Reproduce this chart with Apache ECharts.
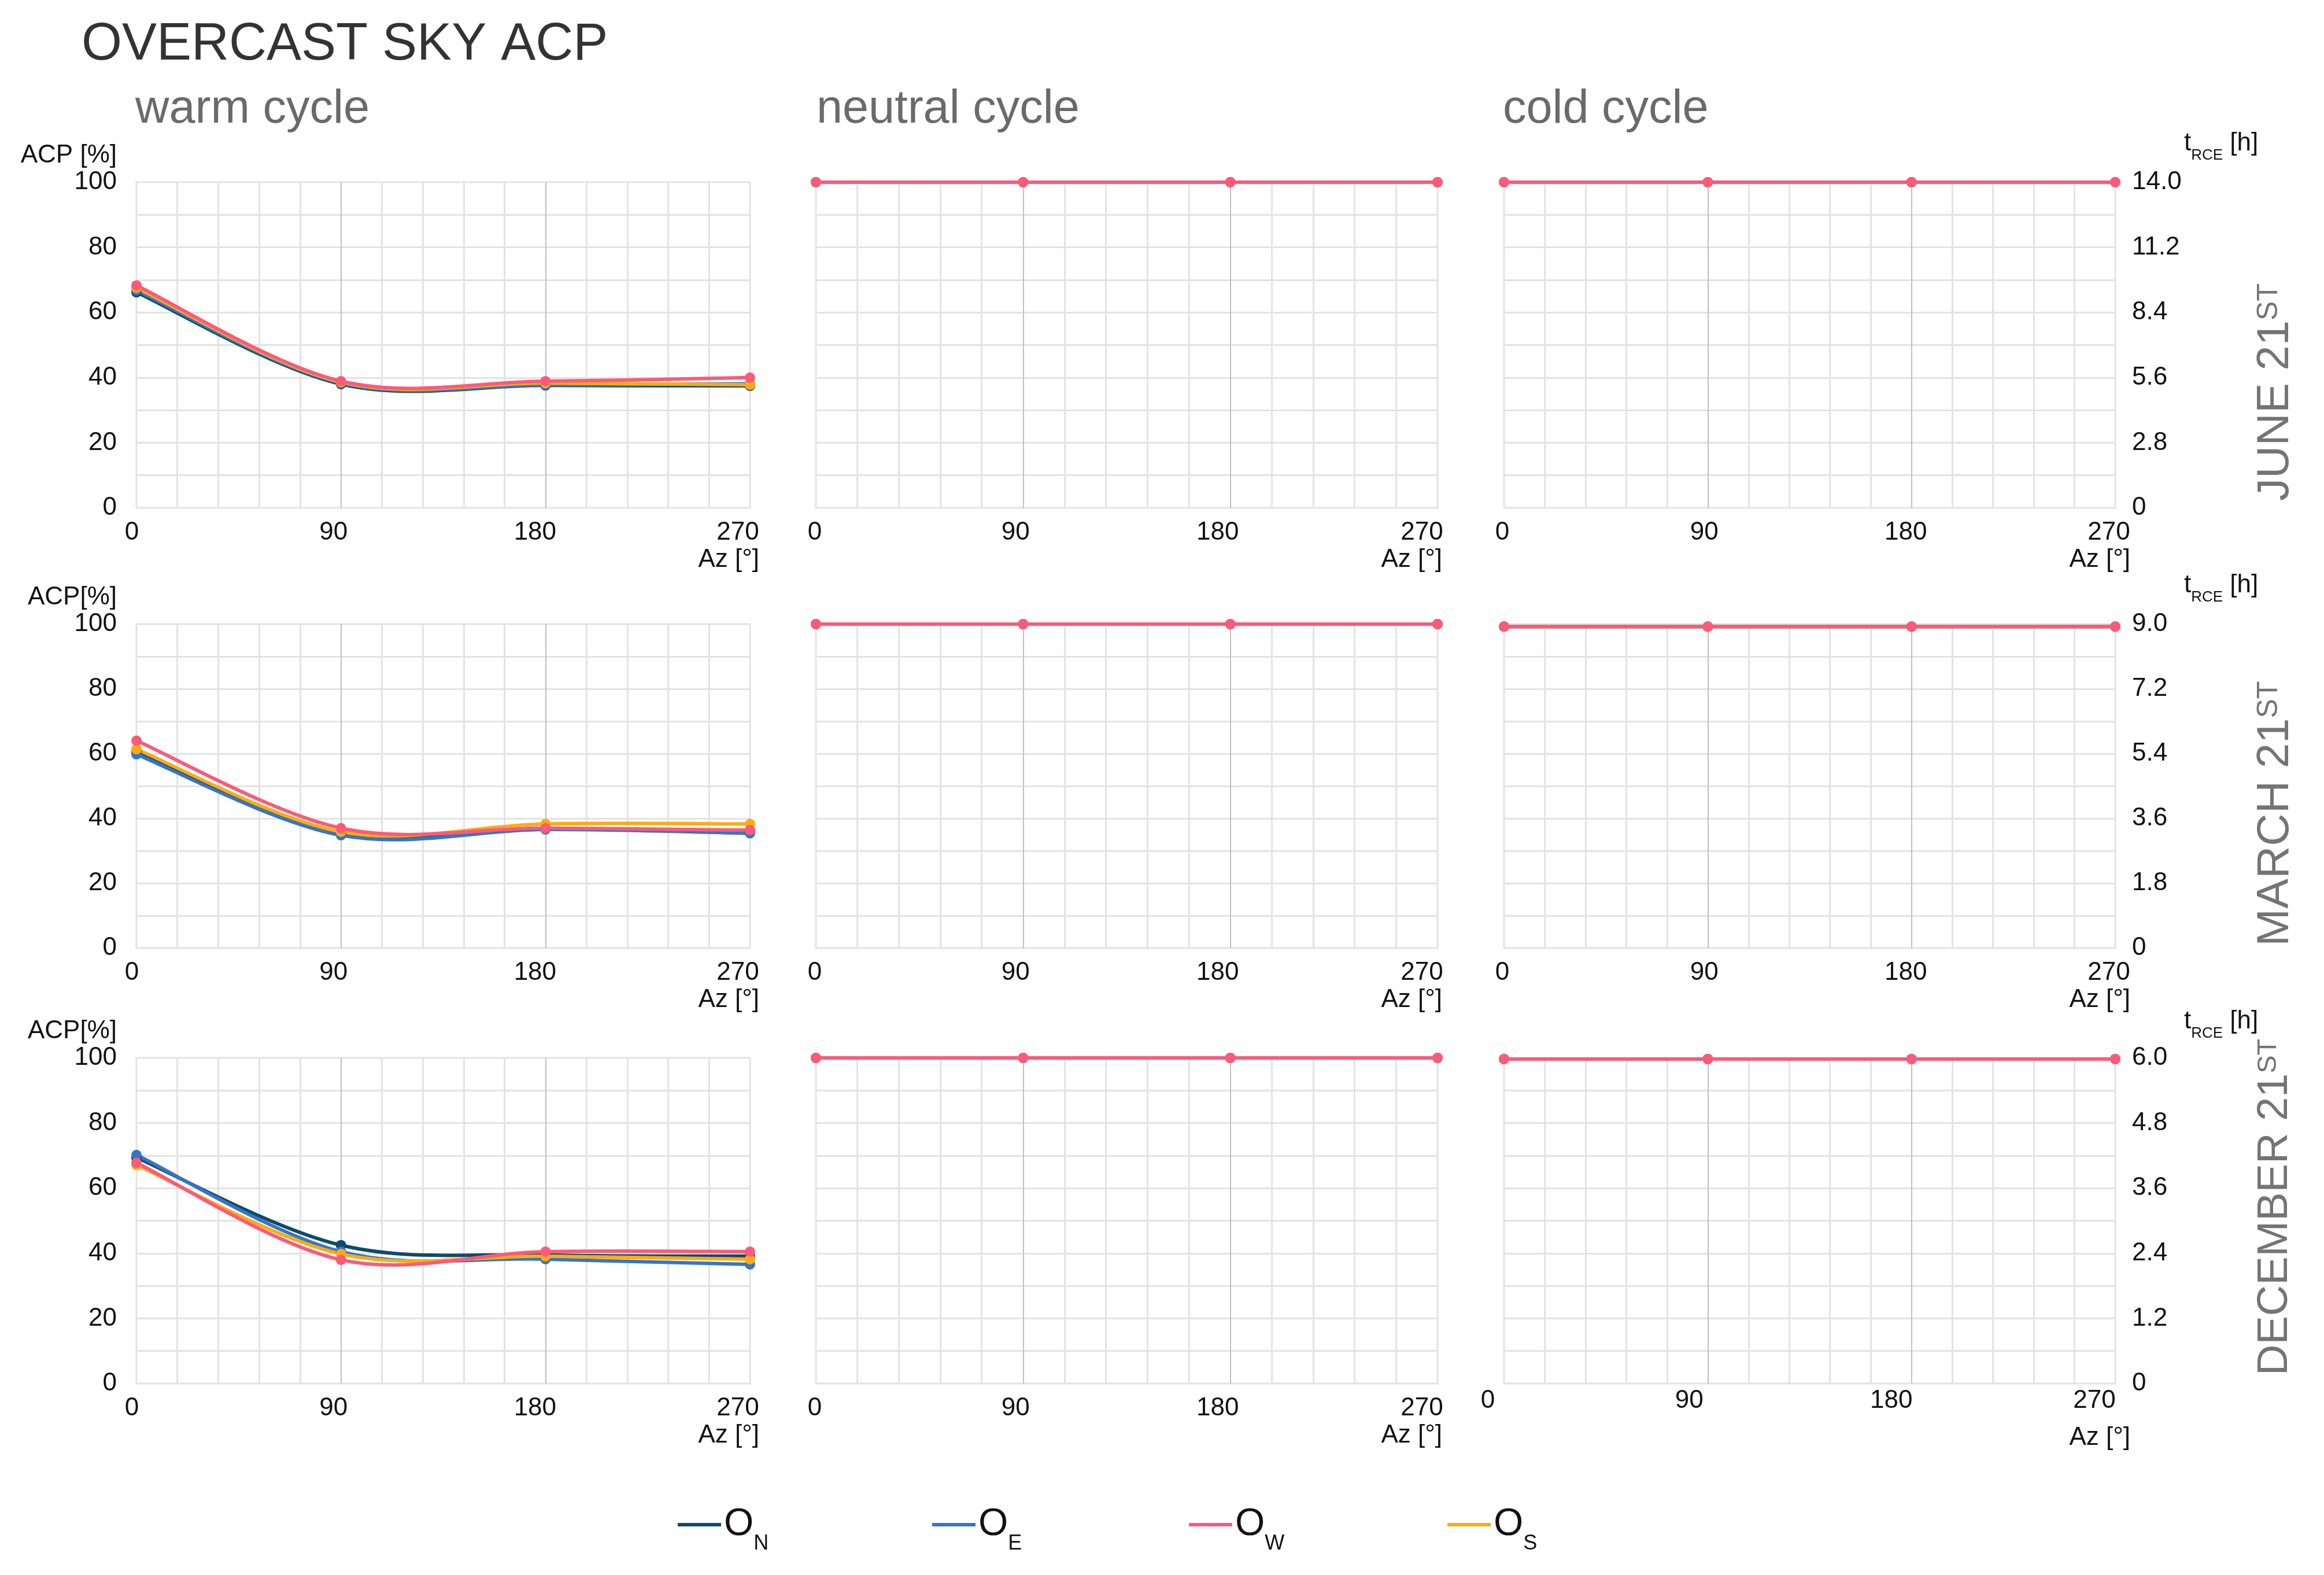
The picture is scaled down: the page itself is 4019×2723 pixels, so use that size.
<!DOCTYPE html>
<html><head><meta charset="utf-8">
<script src="https://cdn.jsdelivr.net/npm/echarts@6/dist/echarts.min.js"></script>
<style>html,body{margin:0;padding:0;background:#fff}#chart{width:4019px;height:2723px}</style>
</head><body><div id="chart"></div>
<script>
// ---------- DATA ----------
const azimuths = [0, 90, 180, 270];
const rowLabels = ['JUNE 21', 'MARCH 21', 'DECEMBER 21'];
const cycleTitles = ['warm cycle', 'neutral cycle', 'cold cycle'];
const seriesKeys = ['N', 'E', 'W', 'S'];

// ACP [%] - warm cycle
const juneWarm_N = [66.2, 38.0, 37.6, 37.5];
const juneWarm_E = [66.8, 38.3, 37.8, 38.1];
const juneWarm_W = [68.3, 38.9, 38.9, 40.0];
const juneWarm_S = [67.6, 38.6, 38.3, 37.8];

const marchWarm_N = [60.6, 35.4, 36.8, 35.9];
const marchWarm_E = [59.8, 34.8, 36.6, 35.4];
const marchWarm_W = [64.0, 37.0, 37.0, 36.4];
const marchWarm_S = [61.4, 35.9, 38.3, 38.3];

const decWarm_N = [69.4, 42.5, 39.5, 39.1];
const decWarm_E = [70.2, 40.5, 38.2, 36.6];
const decWarm_W = [67.8, 38.0, 40.5, 40.5];
const decWarm_S = [67.1, 39.8, 39.1, 38.2];

// ACP [%] - neutral cycle
const juneNeutral_N = [100, 100, 100, 100];
const juneNeutral_E = [100, 100, 100, 100];
const juneNeutral_W = [100, 100, 100, 100];
const juneNeutral_S = [100, 100, 100, 100];
const marchNeutral_N = [100, 100, 100, 100];
const marchNeutral_E = [100, 100, 100, 100];
const marchNeutral_W = [100, 100, 100, 100];
const marchNeutral_S = [100, 100, 100, 100];
const decNeutral_N = [100, 100, 100, 100];
const decNeutral_E = [100, 100, 100, 100];
const decNeutral_W = [100, 100, 100, 100];
const decNeutral_S = [100, 100, 100, 100];

// t_RCE [h] - cold cycle
const juneCold_N = [14.0, 14.0, 14.0, 14.0];
const juneCold_E = [14.0, 14.0, 14.0, 14.0];
const juneCold_W = [14.0, 14.0, 14.0, 14.0];
const juneCold_S = [14.0, 14.0, 14.0, 14.0];
const marchCold_N = [8.93, 8.93, 8.93, 8.93];
const marchCold_E = [8.93, 8.93, 8.93, 8.93];
const marchCold_W = [8.93, 8.93, 8.93, 8.93];
const marchCold_S = [8.93, 8.93, 8.93, 8.93];
const decCold_N = [5.98, 5.98, 5.98, 5.98];
const decCold_E = [5.98, 5.98, 5.98, 5.98];
const decCold_W = [5.98, 5.98, 5.98, 5.98];
const decCold_S = [5.98, 5.98, 5.98, 5.98];

// axis ranges / tick labels
const acpMax = 100, acpInterval = 20;
const tRceMax = [14.0, 9.0, 6.0];
const tRceInterval = [2.8, 1.8, 1.2];

// ---------- STYLE / LAYOUT ----------
const FONT = "'Liberation Sans', Arial, Helvetica, sans-serif";
const colors = { N: '#0e4a6b', E: '#3576c3', W: '#fb5a7a', S: '#fdab12' };
const drawOrder = ['N', 'E', 'S', 'W'];
const cols = [{ left: 236, width: 1061 }, { left: 1411, width: 1075 }, { left: 2601, width: 1057 }];
const rows = [{ top: 315, height: 563 }, { top: 1079, height: 560 }, { top: 1829, height: 563 }];

const table = [
  [{ N: juneWarm_N, E: juneWarm_E, W: juneWarm_W, S: juneWarm_S },
   { N: juneNeutral_N, E: juneNeutral_E, W: juneNeutral_W, S: juneNeutral_S },
   { N: juneCold_N, E: juneCold_E, W: juneCold_W, S: juneCold_S }],
  [{ N: marchWarm_N, E: marchWarm_E, W: marchWarm_W, S: marchWarm_S },
   { N: marchNeutral_N, E: marchNeutral_E, W: marchNeutral_W, S: marchNeutral_S },
   { N: marchCold_N, E: marchCold_E, W: marchCold_W, S: marchCold_S }],
  [{ N: decWarm_N, E: decWarm_E, W: decWarm_W, S: decWarm_S },
   { N: decNeutral_N, E: decNeutral_E, W: decNeutral_W, S: decNeutral_S },
   { N: decCold_N, E: decCold_E, W: decCold_W, S: decCold_S }]
];

// horizontal label shifts (px, to the left) per panel type
function labelShift(r, c) {
  if (c === 0) return { 0: 8, 90: 13, 180: 18, 270: 21 };
  if (c === 1) return { 0: 2, 90: 13, 180: 22, 270: 27 };
  if (r === 2) return { 0: 28, 90: 32, 180: 35, 270: 36 };
  return { 0: 3, 90: 6, 180: 10, 270: 11 };
}
const azNameGap = [16, 8, 26];

// Smooth (Catmull-Rom style) curve through the data points, using the axis scales
function smoothRender(vals) {
  return function (params, api) {
    if (params.dataIndex !== 0) return null;
    const pts = azimuths.map((a, i) => api.coord([a, vals[i]]));
    let d = 'M' + pts[0][0] + ' ' + pts[0][1];
    for (let i = 0; i < pts.length - 1; i++) {
      const p0 = pts[i - 1] || pts[i], p1 = pts[i], p2 = pts[i + 1], p3 = pts[i + 2] || pts[i + 1];
      const c1x = p1[0] + (p2[0] - p0[0]) / 6, c1y = p1[1] + (p2[1] - p0[1]) / 6;
      const c2x = p2[0] - (p3[0] - p1[0]) / 6, c2y = p2[1] - (p3[1] - p1[1]) / 6;
      d += ' C' + c1x + ' ' + c1y + ' ' + c2x + ' ' + c2y + ' ' + p2[0] + ' ' + p2[1];
    }
    return { type: 'path', shape: { pathData: d }, style: { fill: 'none', stroke: api.visual('color'), lineWidth: 6, lineJoin: 'round' }, silent: true };
  };
}

const grids = [], xAxes = [], yAxes = [], series = [];
const gridLineColor = '#e3e3e3';
const tickStyle = { fontSize: 44, fontFamily: FONT, color: '#111' };

for (let r = 0; r < 3; r++) {
  for (let c = 0; c < 3; c++) {
    const gi = r * 3 + c;
    grids.push({ left: cols[c].left, width: cols[c].width, top: rows[r].top, height: rows[r].height,
      show: true, borderColor: gridLineColor, borderWidth: 3, backgroundColor: 'transparent', containLabel: false });
    const sh = labelShift(r, c);
    const rich = {};
    azimuths.forEach(a => { rich['p' + a] = Object.assign({ padding: [0, 2 * sh[a], 0, 0] }, tickStyle); });
    xAxes.push({
      gridIndex: gi, type: 'value', min: 0, max: 270, interval: 90,
      axisLine: { show: false }, axisTick: { show: false },
      splitLine: { show: true, showMinLine: false, showMaxLine: false, lineStyle: { color: '#bfbfbf', width: 2 } },
      minorTick: { show: false, splitNumber: 5 },
      minorSplitLine: { show: true, lineStyle: { color: gridLineColor, width: 3 } },
      axisLabel: { margin: (c === 2 && r === 2) ? 8 : 21, formatter: v => '{p' + v + '|' + v + '}', rich: rich },
      name: 'Az [°]', nameLocation: 'end', nameGap: azNameGap[c],
      nameTextStyle: Object.assign({ align: 'right', verticalAlign: 'top', padding: [(c === 2 && r === 2) ? 72 : 68, 0, 0, 0] }, tickStyle)
    });
    const yBase = {
      gridIndex: gi, type: 'value', min: 0,
      axisLine: { show: false }, axisTick: { show: false },
      splitLine: { show: true, showMinLine: false, showMaxLine: false, lineStyle: { color: gridLineColor, width: 3 } },
      minorTick: { show: false, splitNumber: 2 },
      minorSplitLine: { show: true, lineStyle: { color: gridLineColor, width: 3 } }
    };
    if (c === 0) {
      yAxes.push(Object.assign(yBase, {
        max: acpMax, interval: acpInterval, position: 'left',
        axisLabel: Object.assign({ margin: 34 }, tickStyle),
        name: r === 0 ? 'ACP [%]' : 'ACP[%]', nameLocation: 'end', nameGap: 46,
        nameTextStyle: Object.assign({ align: 'right', verticalAlign: 'middle', padding: [0, 34, 0, 0] }, tickStyle)
      }));
    } else if (c === 1) {
      yAxes.push(Object.assign(yBase, { max: acpMax, interval: acpInterval, position: 'left', axisLabel: { show: false } }));
    } else {
      yAxes.push(Object.assign(yBase, {
        max: tRceMax[r], interval: tRceInterval[r], position: 'right',
        axisLabel: Object.assign({ margin: 29, formatter: v => (v === 0 ? '0' : v.toFixed(1)) }, tickStyle)
      }));
    }
    drawOrder.forEach(k => {
      const vals = table[r][c][k];
      const pts = azimuths.map((a, i) => [a, vals[i]]);
      if (c === 0) {
        series.push({
          name: 'O' + k, type: 'custom', xAxisIndex: gi, yAxisIndex: gi,
          data: pts, renderItem: smoothRender(vals),
          itemStyle: { color: colors[k] }, animation: false, silent: true
        });
      }
      series.push({
        name: 'O' + k, type: 'line', xAxisIndex: gi, yAxisIndex: gi,
        data: pts, smooth: false, clip: false,
        symbol: 'circle', symbolSize: 18, showSymbol: true,
        lineStyle: { color: colors[k], width: 6, opacity: c === 0 ? 0 : 1 },
        itemStyle: { color: colors[k] },
        emphasis: { disabled: true }, animation: false
      });
    });
  }
}

const legendX = { N: 1172, E: 1612, W: 2056, S: 2503 };
const legends = seriesKeys.map(k => ({
  data: [{ name: 'O' + k, icon: 'rect' }],
  left: legendX[k], top: 2603, padding: 0,
  itemWidth: 75, itemHeight: 6, selectedMode: false,
  formatter: name => '{o|O}{s|' + name.slice(1) + '}',
  textStyle: {
    rich: {
      o: { fontSize: 66, lineHeight: 103, fontFamily: FONT, color: '#111', verticalAlign: 'middle' },
      s: { fontSize: 36, lineHeight: 36, fontFamily: FONT, color: '#111', verticalAlign: 'bottom' }
    }
  }
}));

const rowLabelStartY = [866, 1636, 2378];
const rowLabelFont = [78, 78, 74];
const tRceNameY = [248, 1012, 1766];
const graphics = [
  { type: 'text', x: 141, y: 78, style: { text: 'OVERCAST SKY ACP', fontSize: 90, fontFamily: FONT, fill: '#333', verticalAlign: 'middle', align: 'left' } }
];
const cycleX = [234, 1412, 2599];
cycleTitles.forEach((t, i) => graphics.push({ type: 'text', x: cycleX[i], y: 190,
  style: { text: t, fontSize: 81, fontFamily: FONT, fill: '#6a6a6a', verticalAlign: 'middle', align: 'left' } }));
rowLabels.forEach((t, i) => graphics.push({ type: 'text', x: 3935, y: rowLabelStartY[i], rotation: Math.PI / 2,
  style: { text: '{m|' + t + '}{s|ST}', align: 'left', verticalAlign: 'middle',
    rich: {
      m: { fontSize: rowLabelFont[i], lineHeight: 71, fontFamily: FONT, fill: '#747474', verticalAlign: 'middle' },
      s: { fontSize: Math.round(rowLabelFont[i] * 0.64), lineHeight: 50, fontFamily: FONT, fill: '#747474', verticalAlign: 'top' }
    } } }));
tRceNameY.forEach(y => graphics.push({ type: 'text', x: 3777, y: y,
  style: { text: '{t|t}{s|RCE}{t| [h]}', align: 'left', verticalAlign: 'middle',
    rich: {
      t: { fontSize: 44, lineHeight: 68, fontFamily: FONT, fill: '#111', verticalAlign: 'middle' },
      s: { fontSize: 26, lineHeight: 26, fontFamily: FONT, fill: '#111', verticalAlign: 'bottom' }
    } } }));

const chart = echarts.init(document.getElementById('chart'), null, { renderer: 'canvas' });
chart.setOption({
  backgroundColor: '#ffffff',
  animation: false,
  grid: grids, xAxis: xAxes, yAxis: yAxes, series: series,
  legend: legends,
  graphic: graphics
});
</script></body></html>
